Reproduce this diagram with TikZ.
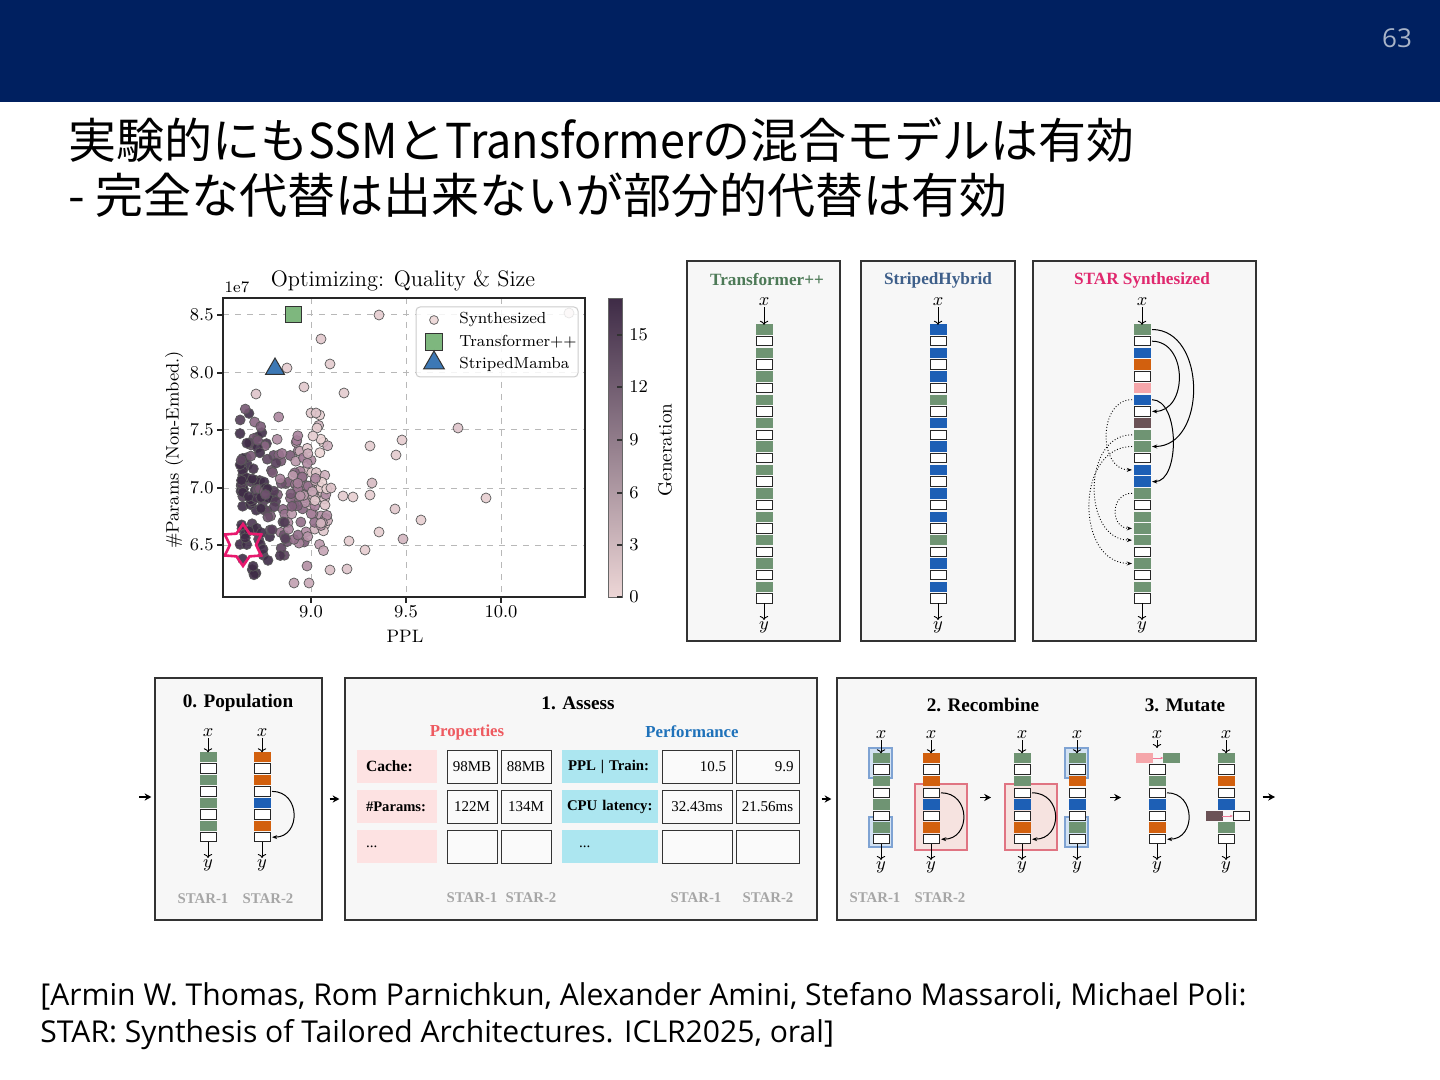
\documentclass[tikz,border=0pt]{standalone}
\usepackage{fontspec}
\usepackage{tikz}
\usetikzlibrary{arrows.meta, positioning, shapes.geometric}

\newfontfamily\jpfont{Noto Sans CJK JP}
\newfontfamily\jplatin{Noto Sans CJK JP}[FakeStretch=0.935]
\newfontfamily\tmsfont{Liberation Serif}
\newfontfamily\slidefont{Open Sans}

\definecolor{slidenavy}{HTML}{002060}
\definecolor{pagegray}{HTML}{A9B4C8}
\definecolor{panelbg}{HTML}{F7F7F7}
\definecolor{blkg}{HTML}{6F9473}
\definecolor{blkw}{HTML}{FFFFFF}
\definecolor{blkb}{HTML}{1D5FB5}
\definecolor{blko}{HTML}{D2600E}
\definecolor{blkp}{HTML}{F5A6AA}
\definecolor{blkd}{HTML}{6B5256}
\colorlet{blkn}{panelbg}
\colorlet{edgeg}{blkg}
\colorlet{edgew}{black!85}
\colorlet{edgeb}{blkb}
\colorlet{edgeo}{blko}
\colorlet{edgep}{blkp}
\colorlet{edged}{blkd}
\colorlet{edgen}{panelbg}
\definecolor{gdark}{HTML}{3F2C47}
\definecolor{gmid}{HTML}{A47C98}
\definecolor{glight}{HTML}{EDD6D6}
\definecolor{mkgreen}{HTML}{7EB77E}
\definecolor{mkblue}{HTML}{3C78B5}
\definecolor{starpink}{HTML}{E8196E}
\definecolor{ttrans}{HTML}{4D7A57}
\definecolor{tstriped}{HTML}{3E5F8A}
\definecolor{tstar}{HTML}{E0286E}
\definecolor{propred}{HTML}{EE5A60}
\definecolor{perfblue}{HTML}{1F72BA}
\definecolor{propfill}{HTML}{FDE2E2}
\definecolor{perffill}{HTML}{ACE6F0}
\definecolor{hlbluefill}{HTML}{D3E2F2}
\definecolor{hlblue}{HTML}{7FA3D3}
\definecolor{hlredfill}{HTML}{F6E3E0}
\definecolor{hlred}{HTML}{E07482}
\definecolor{mutarrow}{HTML}{F07896}

% one stack of layer blocks: name, x, first y, pitch, colour codes
\newcommand{\blockcol}[5]{%
  \foreach \bc [count=\bi] in {#5}
    \node[blk, fill=blk\bc, draw=edge\bc] (#1-\bi) at (#2, {#3+(\bi-1)*#4}) {};
}

\begin{document}
\begin{tikzpicture}[x=0.5pt, y=-0.5pt,
    panel/.style={rectangle, draw=black!80, line width=0.6pt, fill=panelbg, inner sep=0pt},
    ptitle/.style={font=\tmsfont\bfseries\fontsize{8.6}{10}\selectfont},
    stitle/.style={font=\tmsfont\bfseries\fontsize{9.6}{11}\selectfont},
    blk/.style={rectangle, minimum width=8pt, minimum height=4.7pt, inner sep=0pt,
        outer sep=0pt, line width=0.45pt},
    io/.style={inner sep=0.5pt, font=\fontsize{9}{9}\selectfont},
    ioarr/.style={-{To[length=2pt]}, line width=0.45pt},
    skip/.style={-{Stealth[length=2.6pt]}, line width=0.5pt, shorten <=1pt, shorten >=1pt},
    skipdot/.style={-{Stealth[length=2.6pt]}, line width=0.45pt, densely dotted,
        shorten <=1pt, shorten >=1pt},
    parr/.style={-{Stealth[length=3.4pt, width=3.6pt]}, line width=0.65pt},
    mutarr/.style={-{Stealth[length=1.6pt]}, line width=0.4pt, draw=mutarrow},
    starlbl/.style={font=\tmsfont\bfseries\fontsize{7.4}{9}\selectfont, text=black!35},
    propcell/.style={rectangle, fill=propfill, minimum height=16.5pt, text width=31pt,
        inner xsep=4.5pt, align=left, font=\tmsfont\bfseries\fontsize{7.8}{9}\selectfont},
    perfcell/.style={rectangle, fill=perffill, minimum height=16.5pt, text width=45pt,
        inner xsep=1.5pt, align=left, font=\tmsfont\bfseries\fontsize{7.4}{9}\selectfont},
    valcell/.style={rectangle, draw=black!80, line width=0.5pt, fill=black!2,
        minimum width=25pt, minimum height=16.5pt, inner sep=0pt,
        font=\tmsfont\fontsize{7.5}{9}\selectfont},
    grid/.style={black!28, dashed, line width=0.5pt},
    dot/.style={draw=black!65, line width=0.35pt, fill opacity=0.9},
    plotfont/.style={font=\fontsize{9}{10}\selectfont},
    legtext/.style={font=\fontsize{8}{9}\selectfont, anchor=west, inner sep=0pt},
]
\fill[white] (0,0) rectangle (1440,1080);
\useasboundingbox (0,0) rectangle (1440,1080);

% slide header and title
\fill[slidenavy] (0,0) rectangle (1440,102);
\node[font=\slidefont\fontsize{13}{13}\selectfont, text=pagegray] (pageno) at (1397,38) {63};
\node[anchor=base west, inner sep=0pt, font=\jpfont\fontsize{24}{28}\selectfont]
    (title1) at (68,159) {実験的にも{\jplatin SSM}と{\jplatin Transformer}の混合モデルは有効};
\node[anchor=base west, inner sep=0pt, font=\jpfont\fontsize{24}{28}\selectfont]
    (title2) at (68,214) {- 完全な代替は出来ないが部分的代替は有効};

% ---------------- scatter plot ----------------
\foreach \gx in {311,406,501} \draw[grid] (\gx,298) -- (\gx,597);
\foreach \gy in {315,373,430,488,545} \draw[grid] (223,\gy) -- (585,\gy);

\pgfmathsetseed{4711}
\foreach \k in {1,...,215}{
  \pgfmathsetmacro\ua{rnd}
  \pgfmathsetmacro\ub{rnd}
  \pgfmathsetmacro\uc{rnd}
  \pgfmathsetmacro\ud{rnd}
  \pgfmathsetmacro\px{240+88*\ua^1.5}
  \pgfmathsetmacro\py{402+180*(\ub+\uc)/2}
  \pgfmathsetmacro\pt{1.15-(\px-240)/85-(490-\py)/450+0.5*(\ud-0.5)}
  \pgfmathtruncatemacro\pa{max(0,min(100,200*\pt-100))}
  \pgfmathtruncatemacro\pb{max(0,min(100,200*\pt))}
  \filldraw[dot, fill=gdark!\pa!gmid!\pb!glight] (\px,\py) circle (2.5pt);
}
\foreach \ox/\oy/\og in {379/315/10, 321/339/15, 330/364/12, 287/368/10, 304/387/15,
    256/394/20, 344/393/12, 569/313/3, 458/428/20, 486/498/8, 421/520/8, 403/539/35,
    402/440/10, 396/455/12, 370/446/12, 372/483/30, 370/495/10, 343/496/12, 353/497/8,
    395/509/15, 379/532/8, 349/541/10, 365/550/10, 330/570/25, 347/569/20, 294/583/60,
    309/583/50, 311/413/15, 316/413/20, 317/428/10, 313/436/12, 325/505/18, 331/488/22}
  \filldraw[dot, fill=gmid!\og!glight] (\ox,\oy) circle (2.5pt);

\node[rectangle, minimum size=8pt, fill=mkgreen, draw=black!80, line width=0.5pt]
    (trpp) at (293,315) {};
\node[regular polygon, regular polygon sides=3, minimum size=11pt, inner sep=0pt,
    fill=mkblue, draw=black!80, line width=0.5pt] (smamba) at (275,369) {};
\node[star, star points=6, star point ratio=1.6, minimum size=21pt, inner sep=0pt,
    draw=starpink, line width=1.3pt] (best) at (243,545) {};

% legend
\draw[black!20, fill=white, fill opacity=0.85, rounded corners=2pt, line width=0.5pt]
    (416,307) rectangle (578,377);
\filldraw[dot, fill=glight] (434,320) circle (2.2pt);
\node[legtext] (lgsyn) at (459,320) {Synthesized};
\node[rectangle, minimum size=8.5pt, fill=mkgreen, draw=black!80, line width=0.5pt]
    (lgtr) at (434,342) {};
\node[legtext] (lgtrtext) at (459,342) {Transformer++};
\node[regular polygon, regular polygon sides=3, minimum size=12pt, inner sep=0pt,
    fill=mkblue, draw=black!80, line width=0.5pt] (lgsm) at (434,363) {};
\node[legtext] (lgsmtext) at (459,364) {StripedMamba};

\draw[black!85, line width=0.8pt] (223,298) rectangle (585,597);
\foreach \ty/\tl in {315/8.5, 373/8.0, 430/7.5, 488/7.0, 545/6.5}{
  \draw[black!85, line width=0.6pt] (217,\ty) -- (223,\ty);
  \node[plotfont, anchor=east, inner sep=0pt] at (214,\ty) {\tl};
}
\foreach \tx/\tl in {311/9.0, 406/9.5, 501/10.0}{
  \draw[black!85, line width=0.6pt] (\tx,597) -- (\tx,603);
  \node[plotfont] at (\tx,612) {\tl};
}
\node[font=\fontsize{8}{9}\selectfont] (expo) at (237,287) {1e7};
\node[font=\fontsize{11.2}{12}\selectfont] (ptitle) at (403,281) {Optimizing: Quality \& Size};
\node[plotfont] (xlab) at (405,636) {PPL};
\node[plotfont, rotate=90] (ylab) at (174,450) {\#Params (Non-Embed.)};

% colour bar
\shade[top color=gdark, middle color=gmid, bottom color=glight] (608,299) rectangle (622,597);
\draw[black!60, line width=0.5pt] (608,299) rectangle (622,597);
\foreach \cy/\cl in {597/0, 545/3, 493/6, 440/9, 387/12, 335/15}{
  \draw[black!80, line width=0.6pt] (617,\cy) -- (622,\cy);
  \node[plotfont, anchor=west, inner sep=0pt] at (629,\cy) {\cl};
}
\node[font=\fontsize{9.6}{10}\selectfont, rotate=90] (genlab) at (665,450) {Generation};

% ---------------- reference architectures ----------------
\node[panel, minimum width=76.5pt, minimum height=190pt] (ptrans) at (763.5,451) {};
\node[panel, minimum width=77pt, minimum height=190pt] (pstriped) at (938,451) {};
\node[panel, minimum width=111.5pt, minimum height=190pt] (pstar) at (1144.5,451) {};
\node[ptitle, text=ttrans] (ttrans) at (767,280) {Transformer++};
\node[ptitle, text=tstriped] (tstripedt) at (938,280) {StripedHybrid};
\node[ptitle, text=tstar] (tstart) at (1142,280) {STAR Synthesized};

\blockcol{tr}{764}{329.5}{11.7}{g,w,g,w,g,w,g,w,g,w,g,w,g,w,g,w,g,w,g,w,g,w,g,w}
\blockcol{sh}{938}{329.5}{11.7}{b,w,b,w,b,w,g,w,b,w,b,w,b,w,b,w,b,w,g,w,b,w,b,w}
\blockcol{ss}{1142}{329.5}{11.7}{g,w,b,o,w,p,b,w,d,g,g,w,b,b,g,w,g,g,g,w,g,w,g,w}

\node[io] (trx) at (764,302) {$x$};
\node[io] (try) at (764,627) {$y$};
\node[io] (shx) at (938,302) {$x$};
\node[io] (shy) at (938,627) {$y$};
\node[io] (ssx) at (1142,302) {$x$};
\node[io] (ssy) at (1142,627) {$y$};
\draw[ioarr] (trx) -- (tr-1);
\draw[ioarr] (tr-24) -- (try);
\draw[ioarr] (shx) -- (sh-1);
\draw[ioarr] (sh-24) -- (shy);
\draw[ioarr] (ssx) -- (ss-1);
\draw[ioarr] (ss-24) -- (ssy);

% skip connections of the synthesized model
\draw[skip] (ss-1.east) .. controls +(57,0) and +(57,0) .. (ss-11.east);
\draw[skip] (ss-2.east) .. controls +(38,0) and +(38,0) .. (ss-8.east);
\draw[skip] (ss-7.east) .. controls +(30,0) and +(30,0) .. (ss-14.east);
\draw[skipdot] (ss-7.west) .. controls +(-36,0) and +(-36,0) .. (ss-13.west);
\draw[skipdot] (ss-10.west) .. controls +(-52,0) and +(-52,0) .. (ss-19.west);
\draw[skipdot] (ss-11.west) .. controls +(-59,0) and +(-59,0) .. (ss-21.west);
\draw[skipdot] (ss-15.west) .. controls +(-24,0) and +(-24,0) .. (ss-18.west);

% ---------------- evolution loop ----------------
\coordinate (flowin) at (139,797);
\coordinate (flowout) at (1275,797);
\node[panel, minimum width=83.5pt, minimum height=121pt] (pop) at (238.5,799) {};
\node[panel, minimum width=236pt, minimum height=121pt] (assess) at (581,799) {};
\node[panel, minimum width=209.5pt, minimum height=121pt] (recomb) at (1046.5,799) {};
\draw[parr, shorten >=1.5pt] (flowin) -- (flowin -| pop.west);
\draw[parr, shorten <=3.5pt, shorten >=2.5pt] (pop.east) -- (assess.west);
\draw[parr, shorten <=2pt, shorten >=2.5pt] (assess.east) -- (recomb.west);
\draw[parr, shorten <=3pt] (flowout -| recomb.east) -- (flowout);

% 0. population
\node[stitle] (poptitle) at (238,703) {0. Population};
\blockcol{pa}{208}{757}{11.45}{g,w,g,w,g,w,g,w}
\blockcol{pb}{262}{757}{11.45}{o,w,o,w,b,w,o,w}
\node[io] (pax) at (208,733) {$x$};
\node[io] (pay) at (208,865) {$y$};
\node[io] (pbx) at (262,733) {$x$};
\node[io] (pby) at (262,865) {$y$};
\draw[ioarr] (pax) -- (pa-1);
\draw[ioarr] (pa-8) -- (pay);
\draw[ioarr] (pbx) -- (pb-1);
\draw[ioarr] (pb-8) -- (pby);
\draw[skip] (pb-4.east) .. controls +(31,0) and +(31,0) .. (pb-8.east);
\node[starlbl] (popl1) at (203,899) {STAR-1};
\node[starlbl] (popl2) at (268,899) {STAR-2};

% 1. assess
\node[stitle] (asstitle) at (578,703) {1. Assess};
\node[font=\tmsfont\bfseries\fontsize{8.4}{10}\selectfont, text=propred] (proptitle)
    at (467,732) {Properties};
\node[font=\tmsfont\bfseries\fontsize{8.4}{10}\selectfont, text=perfblue] (perftitle)
    at (692,732) {Performance};

\node[propcell] (cache) at (397,766.5) {Cache:};
\node[propcell] (nparams) at (397,806.5) {\fontsize{7.3}{9}\selectfont\#Params:};
\node[propcell, font=\tmsfont\fontsize{7.5}{9}\selectfont] (propmore) at (397,846.5) {...};
\node[valcell] (cachea) at (472,766.5) {98MB};
\node[valcell] (cacheb) at (526,766.5) {88MB};
\node[valcell] (nparamsa) at (472,806.5) {122M};
\node[valcell] (nparamsb) at (526,806.5) {134M};
\node[valcell] (propmorea) at (472,846.5) {};
\node[valcell] (propmoreb) at (526,846.5) {};

\node[perfcell] (ppltrain) at (610,766.5) {\hspace*{1.5pt}PPL | Train:};
\node[perfcell] (cpulat) at (610,806.5) {\hspace*{1pt}CPU latency:};
\node[perfcell, font=\tmsfont\fontsize{7.5}{9}\selectfont] (perfmore) at (610,846.5)
    {\hspace*{7pt}...};
\node[valcell, minimum width=35pt, text width=29pt, align=right] (ppla) at (697,766.5) {10.5\hspace*{4pt}};
\node[valcell, minimum width=31.5pt, text width=26pt, align=right] (pplb) at (767.5,766.5) {9.9};
\node[valcell, minimum width=35pt] (cpua) at (697,806.5) {32.43ms};
\node[valcell, minimum width=31.5pt] (cpub) at (767.5,806.5) {21.56ms};
\node[valcell, minimum width=35pt] (perfmorea) at (697,846.5) {};
\node[valcell, minimum width=31.5pt] (perfmoreb) at (767.5,846.5) {};

\node[starlbl] (assl1) at (472,898) {STAR-1};
\node[starlbl] (assl2) at (531,898) {STAR-2};
\node[starlbl] (assl3) at (696,898) {STAR-1};
\node[starlbl] (assl4) at (768,898) {STAR-2};

% 2. recombine
\node[stitle] (rectitle) at (983,705) {2. Recombine};
\draw[hlblue, fill=hlbluefill, line width=0.6pt] (869,748) rectangle (892,778);
\draw[hlblue, fill=hlbluefill, line width=0.6pt] (869,817) rectangle (892,847);
\draw[hlblue, fill=hlbluefill, line width=0.6pt] (1065,748) rectangle (1088,778);
\draw[hlblue, fill=hlbluefill, line width=0.6pt] (1065,817) rectangle (1088,847);
\draw[hlred, fill=hlredfill, line width=0.6pt] (915,784) rectangle (967,850);
\draw[hlred, fill=hlredfill, line width=0.6pt] (1005,784) rectangle (1057,850);

\blockcol{ra}{881}{758}{11.6}{g,w,g,w,g,w,g,w}
\blockcol{rb}{931}{758}{11.6}{o,w,o,w,b,w,o,w}
\blockcol{rc}{1022}{758}{11.6}{g,w,g,w,b,w,o,w}
\blockcol{rd}{1077}{758}{11.6}{g,w,o,w,b,w,g,w}
\foreach \col/\cx in {ra/881, rb/931, rc/1022, rd/1077}{
  \node[io] (\col x) at (\cx,735) {$x$};
  \node[io] (\col y) at (\cx,867) {$y$};
  \draw[ioarr] (\col x) -- (\col-1);
  \draw[ioarr] (\col-8) -- (\col y);
}
\draw[skip] (rb-4.east) .. controls +(32,0) and +(32,0) .. (rb-8.east);
\draw[skip] (rc-4.east) .. controls +(33,0) and +(33,0) .. (rc-8.east);
\draw[parr, shorten <=20.5pt, shorten >=11.5pt] (rb-4.south east) -- (rc-4.south west);
\node[starlbl] (recl1) at (875,898) {STAR-1};
\node[starlbl] (recl2) at (940,898) {STAR-2};

% 3. mutate
\node[stitle] (muttitle) at (1185,705) {3. Mutate};
\node[blk, fill=blkp, draw=edgep] (mswapa) at (1144.5,758) {};
\node[blk, fill=blkg, draw=edgeg] (mswapb) at (1171.5,758) {};
\blockcol{me}{1157}{769.6}{11.6}{w,g,w,b,w,o,w}
\blockcol{mf}{1226}{758}{11.6}{g,w,o,w,b,n,g,w}
\node[blk, fill=blkd, draw=edged] (mswapc) at (1214,816) {};
\node[blk, fill=blkw, draw=edgew] (mswapd) at (1241,816) {};
\draw[mutarr] (mswapa) -- (mswapb);
\draw[mutarr] (mswapc) -- (mswapd);
\coordinate (mrow) at (1157,758);
\node[io] (mex) at (1157,735) {$x$};
\node[io] (mey) at (1157,867) {$y$};
\node[io] (mfx) at (1226,735) {$x$};
\node[io] (mfy) at (1226,867) {$y$};
\draw[ioarr, shorten >=5pt] (mex) -- (mrow);
\draw[ioarr] (me-7) -- (mey);
\draw[ioarr] (mfx) -- (mf-1);
\draw[ioarr] (mf-8) -- (mfy);
\draw[skip] (me-3.east) .. controls +(31,0) and +(31,0) .. (me-7.east);
\draw[parr, shorten <=12.5pt, shorten >=14pt] (rd-4.south east) -- (me-3.south west);

% reference
\node[anchor=base west, inner sep=0pt, font=\slidefont\fontsize{15.05}{17}\selectfont]
    (ref1) at (40,1005)
    {[Armin W. Thomas, Rom Parnichkun, Alexander Amini, Stefano Massaroli, Michael Poli:};
\node[anchor=base west, inner sep=0pt, font=\slidefont\fontsize{15.05}{17}\selectfont]
    (ref2) at (40,1042)
    {STAR: Synthesis of Tailored Architectures. ICLR2025, oral]};
\end{tikzpicture}
\end{document}
